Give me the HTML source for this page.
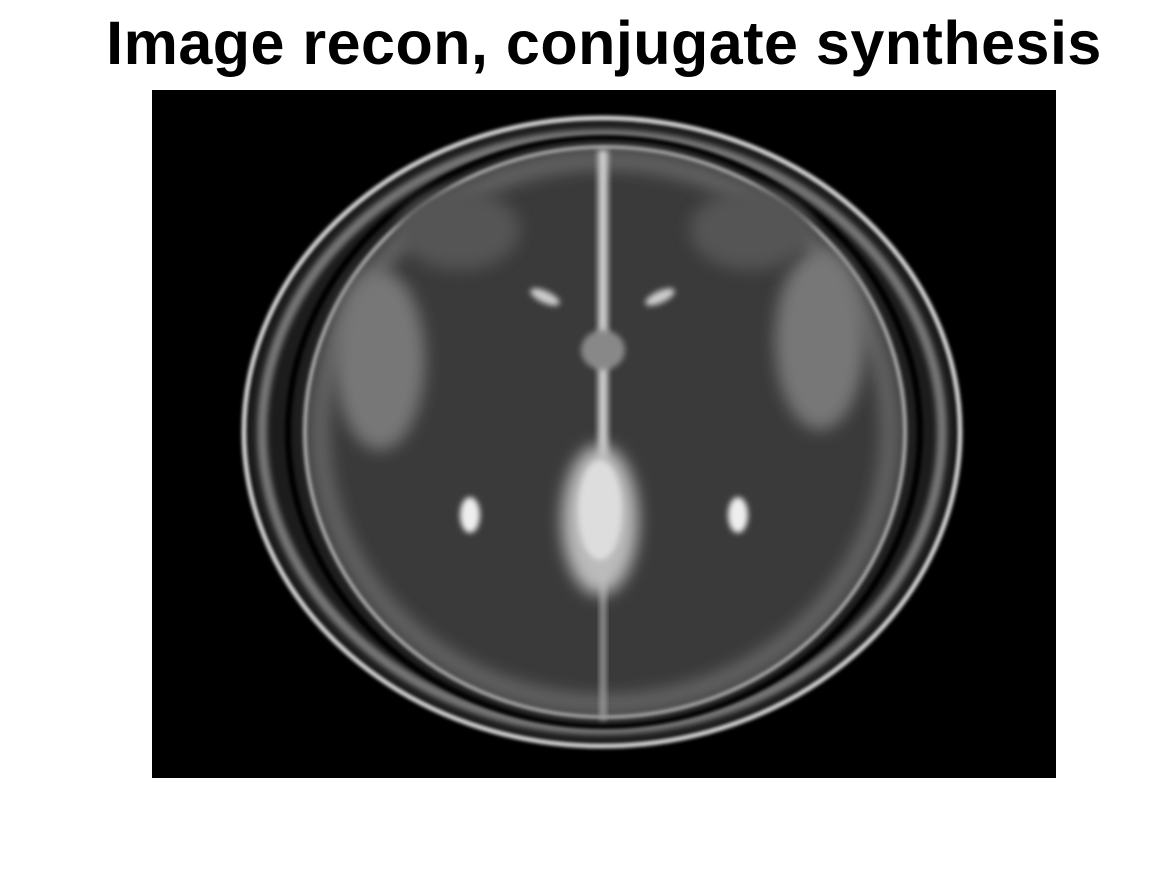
<!DOCTYPE html>
<html><head><meta charset="utf-8"><style>
html,body{margin:0;padding:0;background:#fff;width:1167px;height:875px;overflow:hidden}
#t{position:absolute;left:0;width:1208px;top:8px;text-align:center;font:bold 61px "Liberation Sans",sans-serif;color:#000;letter-spacing:0.5px}
svg{position:absolute;left:0;top:0}
</style></head><body>
<svg width="1167" height="875">
<defs>
<filter id="b3" x="-50%" y="-50%" width="200%" height="200%"><feGaussianBlur stdDeviation="3"/></filter>
<filter id="b8" x="-50%" y="-50%" width="200%" height="200%"><feGaussianBlur stdDeviation="8"/></filter>
<filter id="b1" x="-50%" y="-50%" width="200%" height="200%"><feGaussianBlur stdDeviation="1.5"/></filter>
</defs>
<rect x="152" y="90" width="904" height="688" fill="#000"/>
<g>
<ellipse cx="602" cy="432" rx="355" ry="312" fill="#1c1c1c" filter="url(#b3)"/>
<ellipse cx="602" cy="432" rx="358" ry="314" fill="none" stroke="#cfcfcf" stroke-width="5" filter="url(#b1)"/>
<ellipse cx="602" cy="432" rx="340" ry="298" fill="none" stroke="#777" stroke-width="10" filter="url(#b3)"/>
<ellipse cx="604" cy="432" rx="316" ry="294" fill="none" stroke="#000" stroke-width="6" filter="url(#b1)"/>
</g>
<g>
<ellipse cx="605" cy="432" rx="300" ry="285" fill="#3a3a3a"/>
<ellipse cx="605" cy="432" rx="300" ry="285" fill="none" stroke="#bbb" stroke-width="4" filter="url(#b1)"/>
<ellipse cx="605" cy="432" rx="285" ry="272" fill="none" stroke="#666" stroke-width="18" filter="url(#b8)"/>
<ellipse cx="380" cy="360" rx="45" ry="90" fill="#777" filter="url(#b8)"/>
<ellipse cx="820" cy="340" rx="45" ry="90" fill="#777" filter="url(#b8)"/>
<ellipse cx="460" cy="230" rx="60" ry="40" fill="#555" filter="url(#b8)"/>
<ellipse cx="750" cy="230" rx="60" ry="40" fill="#555" filter="url(#b8)"/>
<rect x="598" y="150" width="10" height="310" fill="#ccc" filter="url(#b3)"/>
<rect x="600" y="560" width="6" height="160" fill="#999" filter="url(#b3)"/>
<ellipse cx="600" cy="520" rx="38" ry="75" fill="#bbb" filter="url(#b8)"/>
<ellipse cx="600" cy="510" rx="22" ry="50" fill="#ddd" filter="url(#b3)"/>
<ellipse cx="470" cy="515" rx="10" ry="18" fill="#eee" filter="url(#b3)"/>
<ellipse cx="738" cy="515" rx="10" ry="18" fill="#eee" filter="url(#b3)"/>
<ellipse cx="545" cy="297" rx="16" ry="6" fill="#ccc" filter="url(#b3)" transform="rotate(25 545 297)"/>
<ellipse cx="660" cy="297" rx="16" ry="6" fill="#ccc" filter="url(#b3)" transform="rotate(-25 660 297)"/>
<ellipse cx="603" cy="350" rx="22" ry="20" fill="#888" filter="url(#b3)"/>
</g>
</svg>
<div id="t">Image recon, conjugate synthesis</div>
</body></html>
